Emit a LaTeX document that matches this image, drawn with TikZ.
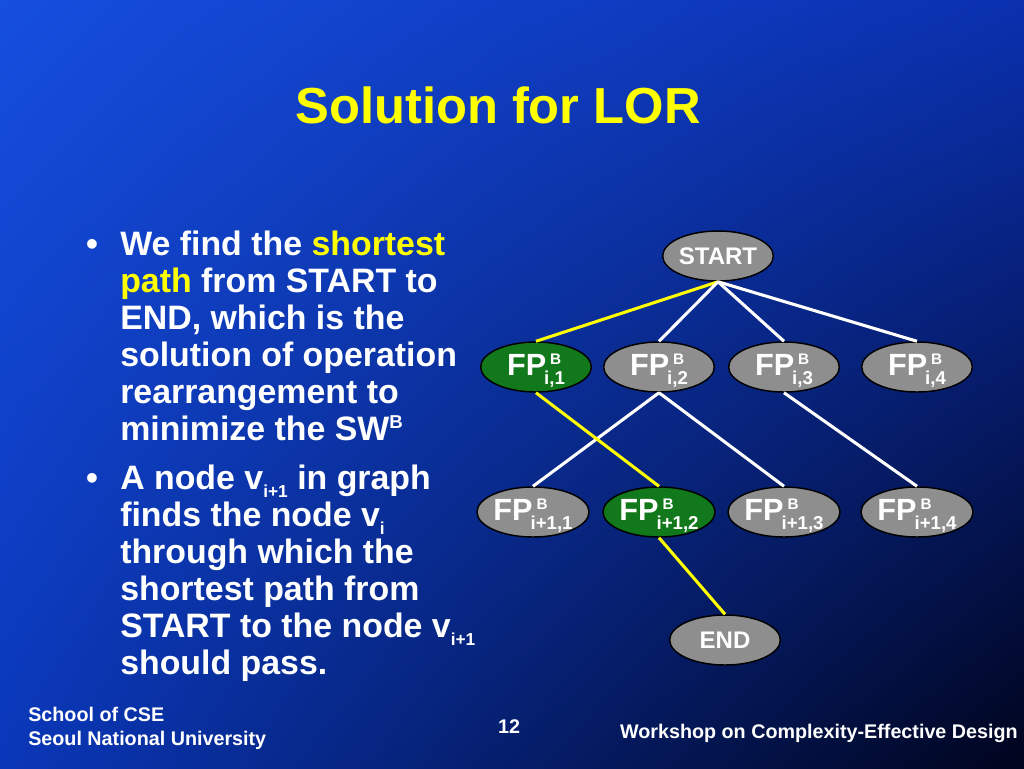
\documentclass[tikz,border=0pt]{standalone}
\usepackage{fontspec}
\setmainfont{Liberation Sans}
\usetikzlibrary{shapes.geometric,shadings}
\definecolor{bgUL}{RGB}{22,78,222}
\definecolor{bgUR}{RGB}{10,48,175}
\definecolor{bgLL}{RGB}{10,55,185}
\definecolor{bgLR}{RGB}{0,4,28}
\definecolor{yel}{RGB}{255,255,0}
\definecolor{nodegray}{RGB}{142,142,142}
\definecolor{pathgreen}{RGB}{18,120,28}
\newcommand{\fpl}[1]{FP\kern-1.5pt\rlap{\hspace{4.5pt}\raisebox{8.3pt}{\fontsize{11.5}{12}\selectfont B}}\raisebox{-6.75pt}{\fontsize{14}{14}\selectfont #1}}
\newcommand{\mysup}[1]{\raisebox{8.5pt}{\fontsize{14}{14}\selectfont #1}}
\newcommand{\mysub}[1]{\raisebox{-6pt}{\fontsize{13}{14}\selectfont #1}}
\tikzset{
  titletext/.style={text=yel, font=\fontsize{38}{40}\selectfont\bfseries, anchor=base, inner sep=0pt},
  body/.style={text=white, font=\fontsize{25.4}{28}\selectfont\bfseries, anchor=base west, inner sep=0pt},
  bulletmark/.style={text=white, font=\fontsize{25.4}{28}\selectfont\bfseries, anchor=base, inner sep=0pt},
  foot/.style={text=white, font=\fontsize{14.8}{16}\selectfont\bfseries, inner sep=0pt},
  gnode/.style={ellipse, draw=black, line width=1.1pt, fill=nodegray, minimum width=83pt,
    minimum height=37.5pt, inner sep=0pt, text=white, font=\fontsize{23}{26}\selectfont\bfseries,
    text height=13pt, text depth=0pt},
  onpath/.style={gnode, fill=pathgreen},
  endnode/.style={gnode, font=\fontsize{18}{20}\selectfont\bfseries, text height=12.9pt},
  link/.style={draw=white, line width=2.3pt},
  bestlink/.style={draw=yel, line width=2.3pt}
}
\begin{document}
\begin{tikzpicture}[x=0.75pt,y=-0.75pt]
\useasboundingbox (0,0) rectangle (1024,768);
\shade[upper left=bgUL, upper right=bgUR, lower left=bgLL, lower right=bgLR] (0,0) rectangle (1024,768);

\node[titletext] (title) at (498,123) {Solution for LOR};

% bullet 1
\node[bulletmark] (b1m) at (92,255) {•};
\node[body] (l1) at (120,255) {We find the {\color{yel}shortest}};
\node[body] (l2) at (120,292) {{\color{yel}path} from START to};
\node[body] (l3) at (120,329) {END, which is the};
\node[body] (l4) at (120,366) {solution of operation};
\node[body] (l5) at (120,403) {rearrangement to};
\node[body] (l6) at (120,440) {minimize the SW\mysup{B}};
% bullet 2
\node[bulletmark] (b2m) at (92,489) {•};
\node[body] (l7) at (120,489) {A node v\mysub{i+1} in graph};
\node[body] (l8) at (120,526) {finds the node v\mysub{i}};
\node[body] (l9) at (120,563) {through which the};
\node[body] (l10) at (120,600) {shortest path from};
\node[body] (l11) at (120,637) {START to the node v\mysub{i+1}};
\node[body] (l12) at (120,674) {should pass.};

% graph
\node[endnode] (start) at (718,256) {START};
\node[onpath] (a1) at (536,367) {\fpl{i,1}};
\node[gnode] (a2) at (659,367) {\fpl{i,2}};
\node[gnode] (a3) at (784,367) {\fpl{i,3}};
\node[gnode] (a4) at (917,367) {\fpl{i,4}};
\node[gnode] (c1) at (533,512) {\fpl{i+1,1}};
\node[onpath] (c2) at (659,512) {\fpl{i+1,2}};
\node[gnode] (c3) at (784,512) {\fpl{i+1,3}};
\node[gnode] (c4) at (917,512) {\fpl{i+1,4}};
\node[endnode] (end) at (725,640) {END};

\draw[bestlink] (start.south) -- (a1.north);
\draw[link] (start.south) -- (a2.north);
\draw[link] (start.south) -- (a3.north);
\draw[link] (start.south) -- (a4.north);
\draw[link] (a2.south) -- (c1.north);
\draw[link] (a2.south) -- (c3.north);
\draw[link] (a3.south) -- (c4.north);
\draw[bestlink] (a1.south) -- (c2.north);
\draw[bestlink] (c2.south) -- (end.north);

% footer
\node[foot, anchor=base west] (f1) at (28,721) {School of CSE};
\node[foot, anchor=base west] (f2) at (28,745) {Seoul National University};
\node[foot, anchor=base] (pg) at (509,733) {12};
\node[foot, anchor=base east] (f3) at (1018,738) {Workshop on Complexity-Effective Design};
\end{tikzpicture}
\end{document}
